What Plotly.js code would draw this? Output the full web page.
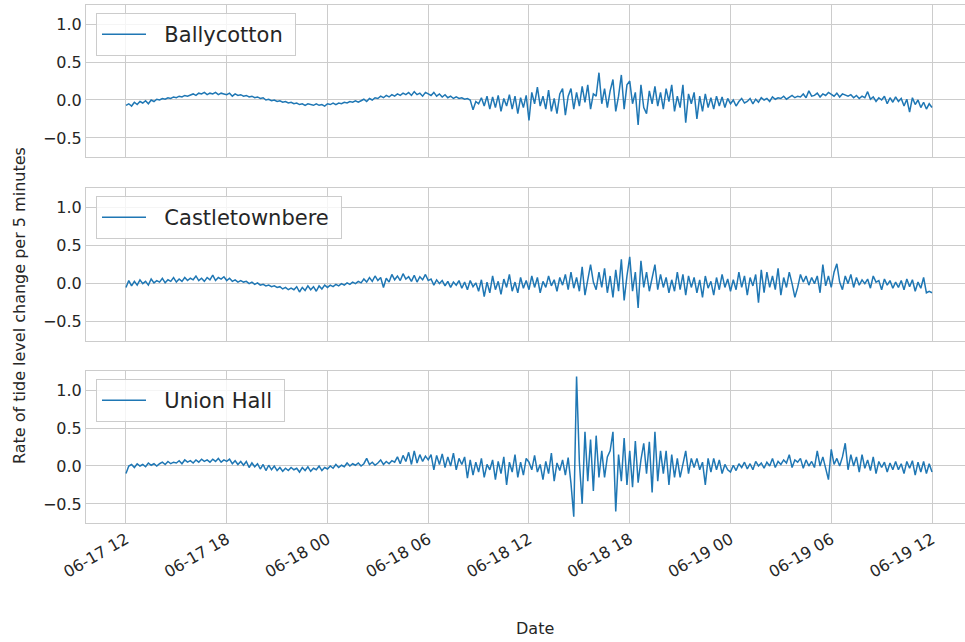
<!DOCTYPE html>
<html>
<head>
<meta charset="utf-8">
<script src="https://cdn.plot.ly/plotly-3.0.1.min.js"></script>
<style>
html,body{margin:0;padding:0;background:#fff;}
#chart{width:965px;height:642px;}
</style>
</head>
<body>
<div id="chart"></div>
<script>
// Sampling: every 10 minutes from 2019-06-17 12:00 to 2019-06-19 12:00
const startTime = '2019-06-17T12:00:00';
const stepMinutes = 10;
const stationNames = ['Ballycotton', 'Castletownbere', 'Union Hall'];
const tickLabels = ['06-17 12','06-17 18','06-18 00','06-18 06','06-18 12','06-18 18','06-19 00','06-19 06','06-19 12'];
const tickTimes = ['2019-06-17 12:00','2019-06-17 18:00','2019-06-18 00:00','2019-06-18 06:00','2019-06-18 12:00','2019-06-18 18:00','2019-06-19 00:00','2019-06-19 06:00','2019-06-19 12:00'];

const ballycotton = [
-0.07,-0.05,-0.08,-0.03,-0.06,-0.02,
-0.04,-0.01,-0.05,0.00,-0.02,0.01,
0.00,0.02,0.01,0.03,0.02,0.04,
0.03,0.05,0.04,0.06,0.05,0.07,
0.08,0.06,0.09,0.08,0.10,0.07,
0.09,0.08,0.10,0.07,0.09,0.08,
0.07,0.09,0.05,0.08,0.06,0.07,
0.05,0.06,0.04,0.05,0.03,0.04,
0.02,0.03,0.00,0.01,-0.01,0.00,
-0.02,-0.01,-0.03,-0.02,-0.04,-0.03,
-0.05,-0.04,-0.06,-0.05,-0.07,-0.05,
-0.06,-0.07,-0.05,-0.07,-0.06,-0.08,
-0.05,-0.06,-0.04,-0.06,-0.04,-0.05,
-0.03,-0.04,-0.02,-0.03,-0.01,-0.03,
-0.01,0.01,-0.02,0.02,0.00,0.03,
0.02,0.05,0.03,0.06,0.04,0.07,
0.05,0.08,0.06,0.09,0.07,0.10,
0.06,0.11,0.07,0.09,0.05,0.10,
0.08,0.06,0.10,0.05,0.08,0.04,
0.07,0.03,0.05,0.02,0.04,0.02,
0.03,0.01,0.02,0.00,-0.13,-0.02,
-0.05,0.03,-0.08,0.05,-0.12,0.04,
-0.10,0.06,-0.15,0.02,-0.08,0.07,
-0.12,0.05,-0.18,0.03,-0.10,0.06,
-0.27,0.10,-0.05,0.17,-0.08,0.05,
-0.12,0.13,-0.15,0.02,-0.18,0.08,
0.15,-0.20,0.05,0.15,-0.12,0.10,
-0.08,0.18,-0.03,0.20,-0.12,0.08,
0.05,0.36,-0.05,0.15,-0.10,0.12,
0.27,-0.15,0.05,0.33,-0.12,0.20,
0.25,-0.05,0.10,-0.33,0.20,-0.10,
-0.18,0.12,-0.05,0.18,-0.08,0.10,
-0.12,0.15,-0.02,0.20,-0.15,0.05,
-0.10,0.20,-0.30,0.08,-0.05,0.10,
-0.25,0.05,-0.15,0.08,-0.10,0.03,
-0.12,0.05,-0.08,0.04,-0.10,0.02,
-0.05,0.00,-0.08,-0.02,0.02,-0.04,
-0.02,0.02,-0.05,0.01,-0.03,0.03,
0.00,0.02,-0.02,0.04,0.01,0.03,
0.02,0.05,0.01,0.04,0.06,0.03,
0.05,0.04,0.08,0.03,0.12,0.05,
0.06,0.09,0.04,0.08,0.06,0.10,
0.07,0.05,0.09,0.04,0.08,0.06,
0.05,0.07,0.03,0.06,0.02,0.05,
0.03,0.11,0.01,0.04,-0.02,0.03,
0.00,0.05,-0.05,0.03,-0.03,0.04,
-0.02,0.02,-0.08,0.01,-0.16,0.03,
-0.06,0.00,-0.10,-0.03,-0.12,-0.05,
-0.10
];

const castletownbere = [
-0.05,0.04,-0.03,0.03,-0.02,0.05,
0.00,0.03,-0.02,0.06,0.01,0.04,
0.02,0.07,0.01,0.05,0.03,0.08,
0.02,0.06,0.03,0.08,0.04,0.07,
0.05,0.10,0.04,0.07,0.03,0.08,
0.05,0.11,0.04,0.08,0.06,0.09,
0.04,0.07,0.03,0.05,0.02,0.04,
0.02,0.03,0.00,0.02,-0.01,0.01,
-0.02,-0.01,-0.03,-0.02,-0.04,-0.03,
-0.05,-0.04,-0.07,-0.05,-0.08,-0.06,
-0.08,-0.04,-0.11,-0.05,-0.09,-0.03,
-0.08,-0.04,-0.10,-0.03,-0.07,-0.02,
-0.05,-0.02,-0.04,-0.01,-0.03,0.00,
-0.02,0.01,-0.01,0.02,0.00,0.03,
0.01,0.06,0.02,0.08,0.03,0.10,
0.04,0.08,-0.05,0.07,0.02,0.12,
0.05,0.10,0.04,0.13,0.06,0.09,
0.03,0.11,0.02,0.09,0.05,0.12,
0.04,0.06,-0.02,0.05,0.00,0.04,
-0.03,0.03,-0.05,0.02,-0.02,0.04,
-0.06,0.02,-0.08,0.04,-0.04,0.01,
-0.10,0.05,-0.17,0.02,-0.12,0.10,
-0.08,0.03,-0.14,0.06,-0.05,0.12,
-0.10,0.02,-0.12,0.08,-0.06,0.04,
-0.08,0.10,-0.05,0.08,-0.12,0.03,
-0.05,0.10,-0.03,0.05,-0.10,0.08,
-0.02,0.12,-0.08,0.15,-0.06,0.08,
-0.10,0.22,-0.15,0.08,0.25,0.02,
-0.08,0.15,-0.05,0.20,-0.12,0.10,
-0.18,0.18,-0.10,0.32,-0.22,0.10,
0.35,-0.10,0.15,-0.32,0.30,-0.05,
0.15,-0.10,0.10,0.25,-0.08,0.12,
-0.05,0.08,-0.12,0.05,-0.10,0.15,
-0.08,0.12,-0.15,0.10,-0.05,0.08,
-0.12,0.05,-0.18,0.10,-0.06,0.03,
-0.15,0.08,-0.08,0.12,-0.05,0.06,
-0.10,0.05,-0.08,0.15,-0.05,0.10,
-0.15,0.08,-0.03,0.12,-0.25,0.18,
-0.12,0.15,-0.05,0.10,-0.08,0.20,
-0.15,0.08,-0.05,0.15,0.00,-0.18,
-0.05,0.12,0.02,0.10,-0.02,0.08,
0.00,0.10,-0.12,0.25,-0.03,0.10,
-0.05,0.15,0.26,0.02,-0.08,0.10,
0.00,0.12,-0.05,0.08,-0.02,0.05,
0.00,0.06,-0.06,0.10,0.02,0.04,
-0.08,0.06,-0.02,0.04,-0.06,0.02,
-0.05,0.04,-0.08,0.06,-0.04,0.05,
-0.10,0.02,-0.06,0.08,-0.12,-0.10,
-0.12
];

const unionHall = [
-0.10,0.00,0.02,-0.02,0.03,0.00,
0.02,-0.01,0.04,0.01,0.03,0.00,
0.03,0.05,0.02,0.06,0.03,0.05,
0.04,0.07,0.03,0.08,0.05,0.07,
0.04,0.08,0.05,0.09,0.06,0.08,
0.05,0.09,0.06,0.10,0.05,0.08,
0.06,0.09,0.03,0.07,0.02,0.06,
0.01,0.06,-0.02,0.04,-0.01,0.03,
-0.04,0.02,-0.06,0.01,-0.05,0.00,
-0.06,-0.02,-0.07,-0.03,-0.06,-0.02,
-0.05,-0.03,-0.08,-0.02,-0.06,-0.01,
-0.07,-0.03,-0.05,0.00,-0.06,-0.02,
-0.04,0.00,-0.03,0.02,-0.02,0.01,
-0.01,0.04,0.00,0.03,0.01,0.04,
0.00,0.03,0.10,0.02,0.05,0.01,
0.04,0.08,0.02,0.06,0.03,0.07,
0.05,0.12,0.03,0.14,0.06,0.18,
0.02,0.20,0.04,0.15,0.06,0.13,
0.08,0.15,-0.05,0.14,0.02,0.16,
-0.02,0.12,0.00,0.17,-0.05,0.10,
0.02,0.12,-0.16,0.08,-0.12,0.05,
-0.08,0.10,-0.15,0.02,-0.05,0.08,
-0.18,0.06,-0.10,0.12,-0.25,0.05,
-0.08,0.15,-0.15,0.05,-0.12,0.10,
0.05,-0.05,0.14,-0.08,0.02,-0.18,
0.06,-0.10,0.17,-0.20,0.04,-0.06,
0.08,-0.12,0.11,-0.23,-0.67,1.18,
0.05,-0.50,0.45,-0.20,0.35,-0.33,
0.40,-0.15,0.20,-0.15,0.12,0.20,
0.45,-0.60,0.15,-0.20,0.37,-0.25,
0.20,-0.28,0.33,-0.22,0.08,0.30,
-0.10,0.32,-0.35,0.45,-0.20,0.20,
-0.10,0.20,-0.25,0.15,-0.15,0.10,
-0.15,0.05,0.20,-0.10,0.10,-0.02,
0.10,-0.05,0.05,-0.25,0.10,-0.08,
0.10,-0.05,0.08,-0.10,0.02,-0.05,
-0.08,0.01,-0.06,0.03,-0.02,0.05,
-0.04,0.03,-0.05,0.06,0.00,0.04,
-0.03,0.05,0.00,0.10,-0.02,0.06,
0.02,0.08,0.04,0.15,-0.02,0.08,
0.05,0.10,-0.03,0.08,0.00,0.06,
-0.02,0.20,0.00,0.12,-0.05,-0.18,
0.22,0.02,0.10,0.00,0.12,0.30,
-0.05,0.15,0.00,0.12,-0.08,0.15,
-0.03,0.08,-0.06,0.12,-0.10,0.06,
-0.02,0.05,-0.08,0.04,-0.05,0.06,
-0.05,0.03,-0.10,0.06,-0.03,0.07,
-0.12,0.05,-0.08,0.06,-0.10,0.03,
-0.08
];

const seriesList = [ballycotton, castletownbere, unionHall];

function makeTimes(n){
  const t0 = new Date(startTime + 'Z').getTime();
  const out = [];
  for(let i=0;i<n;i++){
    const d = new Date(t0 + i*stepMinutes*60000);
    out.push(d.toISOString().slice(0,19).replace('T',' '));
  }
  return out;
}

const lineColor = '#1f77b4';
const gridColor = '#cccccc';
const textColor = '#262626';
const fontFam = 'DejaVu Sans, sans-serif';
const namePad = '\u00a0\u00a0';

const traces = seriesList.map((vals, i) => ({
  type: 'scatter', mode: 'lines',
  x: makeTimes(vals.length), y: vals,
  name: namePad + stationNames[i] + '\u00a0',
  line: {color: lineColor, width: 1.5},
  xaxis: i === 0 ? 'x' : 'x' + (i+1),
  yaxis: i === 0 ? 'y' : 'y' + (i+1),
  legend: i === 0 ? 'legend' : 'legend' + (i+1),
  hoverinfo: 'skip'
}));

// pixel geometry -> paper
const plotTop = 5, plotBottom = 523, plotLeft = 86, plotRight = 965;
const H = plotBottom - plotTop, W = plotRight - plotLeft;
const py = p => (plotBottom - p) / H;
const px = p => (p - plotLeft) / W;
const panels = [[5,157],[188,341],[371,523]];

const xRange = ['2019-06-17 09:37:09', '2019-06-19 13:57:54'];
const yRange = [-0.752, 1.253];

const layout = {
  width: 965, height: 642,
  margin: {l: plotLeft, r: 965 - plotRight, t: plotTop, b: 642 - plotBottom, pad: 0},
  paper_bgcolor: '#ffffff', plot_bgcolor: '#ffffff',
  font: {family: fontFam, color: textColor, size: 16},
  showlegend: true,
  hovermode: false,
  annotations: [
    {text: 'Date', xref: 'paper', yref: 'paper', x: px(535), y: py(628),
     xanchor: 'center', yanchor: 'middle', showarrow: false,
     font: {family: fontFam, size: 16, color: textColor}},
    {text: 'Rate of tide level change per 5 minutes', xref: 'paper', yref: 'paper',
     x: px(19), y: py(306), xanchor: 'center', yanchor: 'middle', textangle: -90,
     showarrow: false, font: {family: fontFam, size: 16, color: textColor}}
  ]
};

panels.forEach((p, i) => {
  const xa = i === 0 ? 'xaxis' : 'xaxis' + (i+1);
  const ya = i === 0 ? 'yaxis' : 'yaxis' + (i+1);
  const lg = i === 0 ? 'legend' : 'legend' + (i+1);
  layout[xa] = {
    type: 'date', range: xRange, domain: [0, 1],
    anchor: i === 0 ? 'y' : 'y' + (i+1),
    tickvals: tickTimes, ticktext: tickLabels,
    showticklabels: i === 2, tickangle: -30,
    tickfont: {family: fontFam, size: 16, color: textColor},
    ticks: '', showgrid: true, gridcolor: gridColor, gridwidth: 1,
    showline: true, linecolor: gridColor, linewidth: 1, mirror: true,
    zeroline: false, fixedrange: true
  };
  layout[ya] = {
    range: yRange, domain: [py(p[1]), py(p[0])],
    anchor: i === 0 ? 'x' : 'x' + (i+1),
    tickvals: [-0.5, 0, 0.5, 1.0], tickformat: '.1f',
    tickfont: {family: fontFam, size: 16, color: textColor},
    ticks: '', ticklen: 0, showgrid: true, gridcolor: gridColor, gridwidth: 1,
    showline: true, linecolor: gridColor, linewidth: 1, mirror: true,
    zeroline: false, fixedrange: true, automargin: false
  };
  layout[lg] = {
    x: px(96), y: py(p[0] + 8), xanchor: 'left', yanchor: 'top',
    xref: 'paper', yref: 'paper',
    bgcolor: 'rgba(255,255,255,0.8)', bordercolor: gridColor, borderwidth: 1,
    font: {family: fontFam, size: 21, color: textColor},
    itemwidth: 44
  };
});

Plotly.newPlot('chart', traces, layout, {displayModeBar: false, staticPlot: true});
</script>
</body>
</html>
